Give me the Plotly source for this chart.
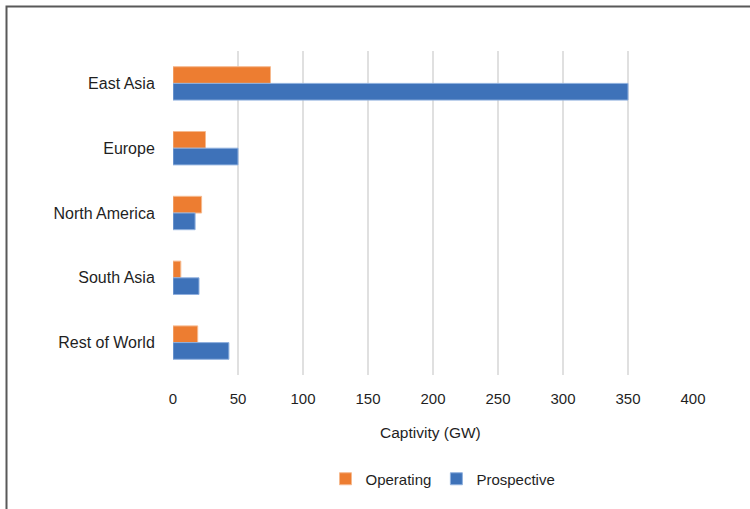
import plotly.graph_objects as go

regions = ["East Asia", "Europe", "North America", "South Asia", "Rest of World"]
operating = [75, 25, 22, 6, 19]
prospective = [350, 50, 17, 20, 43]
x_ticks = [0, 50, 100, 150, 200, 250, 300, 350, 400]

W, H = 750, 509
L, R, T, B = 173, 57, 51, 134
pw, ph = W - L - R, H - T - B

def px_x(p):
    return (p - L) / pw

def px_y(p):
    return (H - B - p) / ph

FONT = "Liberation Sans, Arial, sans-serif"

fig = go.Figure()
fig.add_trace(go.Bar(
    y=regions, x=operating, name="Operating", orientation="h",
    marker=dict(color="#ED7D31", line=dict(color="#F6B98E", width=1)),
))
fig.add_trace(go.Bar(
    y=regions, x=prospective, name="Prospective", orientation="h",
    marker=dict(color="#3E72B9", line=dict(color="#8FB0DE", width=1)),
))

fig.update_layout(
    width=W, height=H,
    margin=dict(l=L, r=R, t=T, b=B, pad=0),
    paper_bgcolor="white", plot_bgcolor="white",
    barmode="group", bargap=0.485, bargroupgap=0,
    font=dict(family=FONT, size=15, color="#1F1F1F"),
    showlegend=True,
    legend=dict(
        orientation="h", x=px_x(443), y=px_y(479),
        xanchor="center", yanchor="middle",
        font=dict(size=15, color="#1F1F1F"),
        traceorder="normal", itemwidth=30,
    ),
    xaxis=dict(
        range=[0, 400], tickvals=x_ticks, ticktext=[str(v) for v in x_ticks],
        showgrid=True, gridcolor="#E0E0E0", gridwidth=2,
        zeroline=False, showline=False,
        ticks="outside", ticklen=10, tickcolor="rgba(0,0,0,0)",
        tickfont=dict(size=15, color="#1F1F1F"),
        fixedrange=True,
    ),
    yaxis=dict(
        categoryorder="array", categoryarray=regions, autorange="reversed",
        showgrid=False, zeroline=False, showline=False,
        ticks="outside", ticklen=14, tickcolor="rgba(0,0,0,0)",
        tickfont=dict(size=16, color="#1F1F1F"),
    ),
    annotations=[dict(
        text="Captivity (GW)", xref="paper", yref="paper",
        x=px_x(430), y=px_y(433), xanchor="center", yanchor="middle",
        showarrow=False, font=dict(size=15.5, color="#1F1F1F"),
    )],
    shapes=[dict(
        type="rect", xref="paper", yref="paper",
        x0=px_x(6.5), x1=px_x(770), y0=px_y(530), y1=px_y(6.5),
        line=dict(color="#595959", width=2), fillcolor="rgba(0,0,0,0)",
        layer="above",
    )],
)

fig.write_html("out.html")
